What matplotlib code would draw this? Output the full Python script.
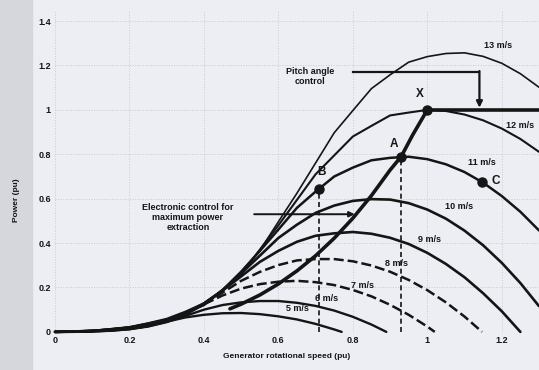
import matplotlib
matplotlib.use("Agg")
import matplotlib.pyplot as plt
from matplotlib.patches import Rectangle

# generator speed grid (pu) shared by all wind-speed curves
speed_pu = [0.00, 0.05, 0.10, 0.15, 0.20, 0.25, 0.30, 0.35, 0.40, 0.45,
            0.50, 0.55, 0.60, 0.65, 0.70, 0.75, 0.80, 0.85, 0.90, 0.95,
            1.00, 1.05, 1.10, 1.15, 1.20, 1.25, 1.30]

# power (pu), one value per grid point until the curve hits zero
p13 = [0, .003, .006, .014, .023, .040, .060, .092, .130, .188, .270, .366, .496, .625,
       .761, .897, .997, 1.096, 1.158, 1.215, 1.240, 1.254, 1.257, 1.241, 1.210, 1.163, 1.102]
p12 = [0, .003, .005, .013, .020, .038, .055, .088, .120, .190, .260, .370, .480, .595,
       .710, .795, .880, .928, .975, .988, 1.000, .995, .979, .953, .916, .869, .811]
p11 = [0, .002, .005, .011, .020, .035, .055, .083, .128, .188, .271, .364, .461, .559,
       .632, .700, .740, .773, .784, .789, .778, .755, .720, .672, .612, .541, .457]
p10 = [0, .002, .004, .010, .019, .031, .052, .078, .127, .186, .263, .343, .423, .483,
       .536, .569, .590, .598, .596, .580, .551, .510, .456, .390, .311, .220, .116]
p9 = [0, .001, .004, .008, .017, .029, .048, .081, .123, .186, .250, .315, .365, .406,
      .433, .444, .450, .442, .424, .396, .356, .306, .246, .174, .093]
p8 = [0, .001, .004, .008, .016, .028, .047, .079, .126, .177, .230, .270, .301, .322,
      .328, .328, .318, .299, .271, .234, .188, .133, .069]
p7 = [0, .001, .003, .007, .015, .026, .050, .083, .124, .164, .195, .215, .226, .230,
      .224, .211, .189, .160, .122, .077, .024]
p6 = [0, .001, .002, .006, .012, .024, .044, .072, .100, .121, .133, .139, .139, .131,
      .117, .096, .068, .033]
p5 = [0, 0, .002, .005, .012, .026, .046, .065, .077, .084, .085, .080, .070, .056,
      .036, .011]

wind_labels = ["13 m/s", "12 m/s", "11 m/s", "10 m/s", "9 m/s", "8 m/s", "7 m/s", "6 m/s", "5 m/s"]
curve_power = [p13, p12, p11, p10, p9, p8, p7, p6, p5]
curve_end = [None, None, None, None, 1.25, 1.147, 1.02, 0.89, 0.77]  # speed where power drops to 0

# maximum power tracking locus
locus_speed = [0.47, 0.50, 0.55, 0.60, 0.65, 0.70, 0.75, 0.80, 0.85, 0.90, 0.93, 0.96, 1.00]
locus_power = [0.104, 0.125, 0.166, 0.216, 0.275, 0.343, 0.422, 0.512, 0.614, 0.729, 0.79, 0.885, 1.00]

point_names = ["X", "A", "B", "C"]
point_speed = [1.00, 0.93, 0.71, 1.147]
point_power = [1.00, 0.79, 0.645, 0.675]

x_ticks = [0, 0.2, 0.4, 0.6, 0.8, 1, 1.2]
y_ticks = [0, 0.2, 0.4, 0.6, 0.8, 1, 1.2, 1.4]

ink = "#151515"
bg = "#eceef4"
plt.rcParams["font.family"] = ["Liberation Sans", "DejaVu Sans"]

fig = plt.figure(figsize=(5.39, 3.70), dpi=100, facecolor=bg)
fig.patches.append(Rectangle((0, 0), 0.06, 1, transform=fig.transFigure,
                             color="#d6d7dc", zorder=0))
ax = fig.add_axes([0.102, 0.103, 0.898, 0.870])
ax.set_facecolor(bg)
ax.set_xlim(0, 1.3)
ax.set_ylim(0, 1.45)
for s in ax.spines.values():
    s.set_visible(False)
ax.grid(True, color="#c6cad3", ls=":", lw=0.7)
ax.set_axisbelow(True)

widths = [1.2, 1.5, 1.8, 1.9, 1.9, 1.8, 1.8, 1.7, 1.7]
dashed = [False, False, False, False, False, True, True, False, False]
for p, end, lw, dsh in zip(curve_power, curve_end, widths, dashed):
    xs = speed_pu[:len(p)]
    ys = list(p)
    if end is not None:
        xs = xs + [end]
        ys = ys + [0]
    ax.plot(xs, ys, color=ink, lw=lw, ls=(0, (4, 1.6)) if dsh else "-",
            solid_capstyle="round", clip_on=False)

ax.plot(locus_speed, locus_power, color=ink, lw=2.6, solid_capstyle="round")
ax.plot([1.0, 1.3], [1.0, 1.0], color=ink, lw=2.6, clip_on=False)

# dashed drop lines from B and A
for nm in ["B", "A"]:
    i = point_names.index(nm)
    ax.plot([point_speed[i], point_speed[i]], [0, point_power[i]], color=ink,
            lw=1.2, ls=(0, (3, 2)))

ax.plot(point_speed, point_power, "o", color=ink, ms=6.5, zorder=5)

letter_pos = [(0.98, 1.07), (0.91, 0.845), (0.716, 0.72), (1.185, 0.68)]
for nm, (lx, ly) in zip(point_names, letter_pos):
    ax.text(lx, ly, nm, fontsize=8.5, fontweight="bold", color=ink, ha="center", va="center")

label_pos = [(1.19, 1.29), (1.25, 0.93), (1.147, 0.765), (1.086, 0.563), (1.005, 0.414),
             (0.917, 0.31), (0.826, 0.21), (0.73, 0.149), (0.65, 0.104)]
for lab, (lx, ly) in zip(wind_labels, label_pos):
    ax.text(lx, ly, lab, fontsize=6.5, fontweight="bold", color=ink,
            ha="center", va="center", clip_on=False)

# pitch control annotation
ax.text(0.684, 1.15, "Pitch angle\ncontrol", fontsize=6.5, fontweight="bold",
        color=ink, ha="center", va="center", linespacing=1.2)
ax.plot([0.80, 1.14], [1.17, 1.17], color=ink, lw=1.6)
ax.annotate("", xy=(1.14, 1.01), xytext=(1.14, 1.175),
            arrowprops=dict(arrowstyle="-|>", color=ink, lw=1.6, mutation_scale=9,
                            shrinkA=0, shrinkB=0))

# electronic control annotation
ax.text(0.357, 0.515, "Electronic control for\nmaximum power\nextraction", fontsize=6.5,
        fontweight="bold", color=ink, ha="center", va="center", linespacing=1.15)
ax.annotate("", xy=(0.805, 0.53), xytext=(0.535, 0.53),
            arrowprops=dict(arrowstyle="-|>", color=ink, lw=1.4, mutation_scale=8,
                            shrinkA=0, shrinkB=0))

ax.set_xticks(x_ticks)
ax.set_xticklabels(["0", "0.2", "0.4", "0.6", "0.8", "1", "1.2"])
ax.set_yticks(y_ticks)
ax.set_yticklabels(["0", "0.2", "0.4", "0.6", "0.8", "1", "1.2", "1.4"])
ax.tick_params(length=0, labelsize=6.5, colors=ink, pad=3)
for t in ax.get_xticklabels() + ax.get_yticklabels():
    t.set_fontweight("bold")

fig.text(287 / 539, 1 - 357 / 370, "Generator rotational speed (pu)", fontsize=6,
         fontweight="bold", color=ink, ha="center", va="center")
fig.text(16 / 539, 1 - 200 / 370, "Power (pu)", fontsize=6, fontweight="bold",
         color=ink, ha="center", va="center", rotation=90)

fig.savefig("out.png", dpi=100, facecolor=bg)
